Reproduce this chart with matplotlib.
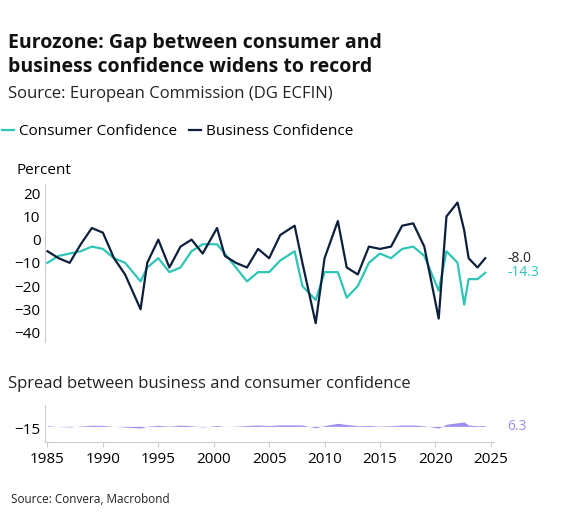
import numpy as np
import matplotlib.pyplot as plt

plt.rcParams['font.family'] = ['Open Sans', 'DejaVu Sans']

# time nodes (decimal years) and readings
t = [1985.0, 1986.0, 1987.0, 1988.0, 1989.0, 1990.0, 1991.0, 1992.0, 1993.4, 1994.0,
     1995.0, 1996.0, 1997.0, 1998.0, 1999.0, 2000.3, 2001.0, 2002.0, 2003.0, 2004.0,
     2005.0, 2006.0, 2007.3, 2008.0, 2009.2, 2010.0, 2011.2, 2012.0, 2013.0, 2014.0,
     2015.0, 2016.0, 2017.0, 2018.0, 2019.0, 2020.3, 2021.0, 2022.0, 2022.6, 2023.0,
     2023.8, 2024.5]
business = [-5, -8, -10, -2, 5, 3, -8, -15, -30, -10,
            0, -12, -3, 0, -6, 5, -7, -10, -12, -4,
            -8, 2, 6, -10, -36, -8, 8, -12, -15, -3,
            -4, -3, 6, 7, -3, -34, 10, 16, 4, -8,
            -12, -8]
consumer = [-10, -7, -6, -5, -3, -4, -8, -10, -18, -12,
            -8, -14, -12, -5, -2, -2, -6, -12, -18, -14,
            -14, -9, -5, -20, -26, -14, -14, -25, -20, -10,
            -6, -8, -4, -3, -7, -22, -5, -10, -28, -17,
            -17, -14.3]

navy = '#0d1f3c'
teal = '#2ec4b6'
purple = '#9b8ff0'

t = np.array(t)
business = np.array(business)
consumer = np.array(consumer)
spread = business - consumer

fig = plt.figure(figsize=(5.66, 5.21), dpi=100)
fig.text(0.015, 0.862, 'Eurozone: Gap between consumer and\nbusiness confidence widens to record',
         fontsize=14, fontweight='bold', color='#111111', va='baseline', linespacing=1.25)
fig.text(0.015, 0.812, 'Source: European Commission (DG ECFIN)', fontsize=12, color='#222222', va='baseline')
fig.text(0.015, 0.255, 'Spread between business and consumer confidence', fontsize=12, color='#222222',
         va='baseline')
fig.text(0.02, 0.035, 'Source: Convera, Macrobond', fontsize=8.5, color='#222222')

ax = fig.add_axes([0.08, 0.344, 0.793, 0.303])
ax.plot(t, consumer, color=teal, lw=1.6, label='Consumer Confidence')
ax.plot(t, business, color=navy, lw=1.6, label='Business Confidence')
ax.set_xlim(1984.8, 2025.3)
ax.set_ylim(-44, 24)
ax.set_yticks([20, 10, 0, -10, -20, -30, -40])
ax.set_xticks([])
for s in ['top', 'right', 'bottom']:
    ax.spines[s].set_visible(False)
ax.spines['left'].set_color('#cccccc')
ax.tick_params(axis='y', length=0, labelsize=11)
ax.text(-0.065, 1.06, 'Percent', transform=ax.transAxes, fontsize=11)
ax.text(1.03, (business[-1] + 44) / 68, '-8.0', transform=ax.transAxes, fontsize=10, va='center', color='#222222')
ax.text(1.03, (consumer[-1] + 44) / 68, '-14.3', transform=ax.transAxes, fontsize=10, va='center', color=teal)
ax.legend(loc='center left', bbox_to_anchor=(-0.11, 1.33), ncol=2, frameon=False, fontsize=11,
          handlelength=0.8, columnspacing=0.8, handletextpad=0.3, borderaxespad=0)

ax2 = fig.add_axes([0.08, 0.152, 0.793, 0.07])
ax2.fill_between(t, 0, spread, color=purple, lw=0)
ax2.set_xlim(1984.8, 2025.3)
ax2.set_ylim(-110, 150)
ax2.set_yticks([-15])
ax2.set_xticks(range(1985, 2026, 5))
for s in ['top', 'right']:
    ax2.spines[s].set_visible(False)
ax2.spines['left'].set_color('#cccccc')
ax2.spines['bottom'].set_color('#cccccc')
ax2.tick_params(axis='y', length=0, labelsize=11)
ax2.tick_params(axis='x', labelsize=11, color='#cccccc')
ax2.text(1.03, 110 / 260, '6.3', transform=ax2.transAxes, fontsize=10, va='center', color=purple)

fig.savefig('out.png', dpi=100)
